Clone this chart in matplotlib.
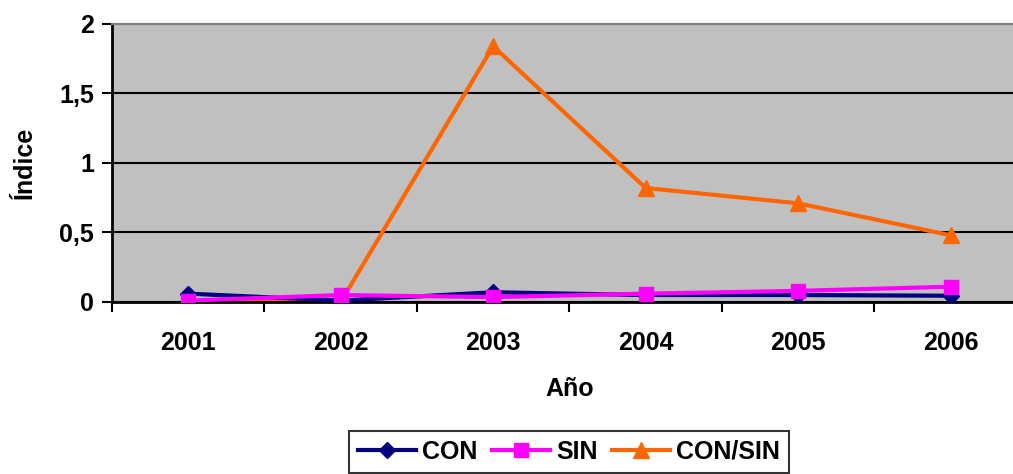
import matplotlib.pyplot as plt

plt.rcParams['font.family'] = ['Liberation Sans', 'DejaVu Sans']
plt.rcParams['font.weight'] = 'bold'

years = ['2001', '2002', '2003', '2004', '2005', '2006']
con = [0.06, 0.01, 0.07, 0.05, 0.05, 0.045]
sin = [0.01, 0.05, 0.035, 0.06, 0.08, 0.11]
con_sin = [0.0, 0.0, 1.84, 0.82, 0.71, 0.48]

fig = plt.figure(figsize=(10.13, 4.74), dpi=100)
# plot area runs past the right edge of the figure
ax = fig.add_axes([0.1106, 0.3629, 0.903, 0.5865])
ax.set_facecolor('#C0C0C0')

x = list(range(1, len(years) + 1))
ax.plot(x, con, color='#000080', marker='D', markersize=8, linewidth=3, label='CON', zorder=3)
ax.plot(x, sin, color='#FF00FF', marker='s', markersize=10, linewidth=3, label='SIN', zorder=4)
ax.plot(x, con_sin, color='#FF6600', marker='^', markersize=11, linewidth=3, label='CON/SIN', zorder=2)

ax.set_xlim(0.5, len(years) + 0.5)
ax.set_ylim(0, 2)
ax.set_yticks([0, 0.5, 1, 1.5, 2])
ax.set_yticklabels(['0', '0,5', '1', '1,5', '2'], fontsize=18, fontweight='bold')
ax.yaxis.grid(True, color='black', linewidth=1.5)
ax.set_axisbelow(True)

# category ticks between years, labels centred on each year
ax.set_xticks([i + 0.5 for i in range(0, len(years) + 1)])
ax.set_xticklabels([])
ax.set_xticks(x, minor=True)
ax.set_xticklabels(years, minor=True, fontsize=18, fontweight='bold')
ax.tick_params(axis='x', which='minor', length=0, pad=21)
ax.tick_params(axis='x', which='major', direction='out', length=7, width=1.5)
ax.tick_params(axis='y', direction='out', length=7, width=1.5, pad=6)

for side in ['left', 'bottom']:
    ax.spines[side].set_color('black')
    ax.spines[side].set_linewidth(2)
ax.spines['top'].set_color('#808080')
ax.spines['top'].set_linewidth(1.5)
ax.spines['right'].set_visible(False)

ax.set_xlabel('Año', fontsize=18, fontweight='bold', labelpad=16)
ax.set_ylabel('Índice', fontsize=18, fontweight='bold', labelpad=16)

leg = fig.legend(loc='upper center', bbox_to_anchor=(0.5617, 1 - 431 / 474), ncol=3,
                 frameon=True, fancybox=False, edgecolor='black',
                 handlelength=2.3, handletextpad=0.25, columnspacing=0.6,
                 borderpad=0.35, borderaxespad=0, prop={'weight': 'bold', 'size': 18})
leg.get_frame().set_linewidth(1.5)

fig.savefig('out.png', dpi=100)
